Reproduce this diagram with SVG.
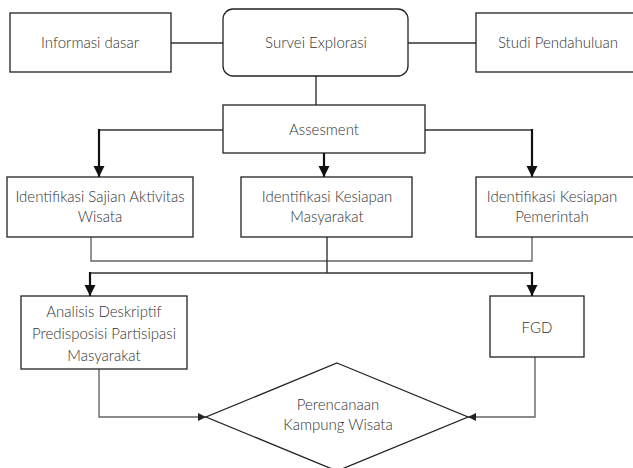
<svg xmlns="http://www.w3.org/2000/svg" width="633" height="468" viewBox="0 0 633 468">
<style>
.box{fill:#fff;stroke:#222;stroke-width:1.3}
.t{font-family:Lato,"Open Sans","DejaVu Sans",sans-serif;font-size:15px;font-weight:300;fill:#333;text-anchor:middle}
.ln{fill:none;stroke:#333;stroke-width:1.4}
.th{fill:none;stroke:#111;stroke-width:2.2}
.gr{fill:none;stroke:#666;stroke-width:1.4}
</style>
<defs>
<marker id="big" viewBox="0 0 10 10" refX="10" refY="5" markerUnits="userSpaceOnUse" markerWidth="11" markerHeight="12" orient="auto"><path d="M0,0 L10,5 L0,10 z" fill="#111"/></marker>
<marker id="small" viewBox="0 0 10 10" refX="10" refY="5" markerUnits="userSpaceOnUse" markerWidth="9" markerHeight="8" orient="auto"><path d="M0,0 L10,5 L0,10 z" fill="#222"/></marker>
</defs>
<rect width="633" height="468" fill="#fff"/>
<g id="connectors">
<line class="ln" x1="171" y1="43" x2="223" y2="43"/>
<line class="ln" x1="408" y1="43" x2="476" y2="43"/>
<line class="ln" x1="316" y1="76" x2="316" y2="105"/>
<path class="ln" d="M223 130 H99"/>
<path class="th" d="M99 129 V177" marker-end="url(#big)"/>
<path class="ln" d="M425 130 H532"/>
<path class="th" d="M532 129 V177" marker-end="url(#big)"/>
<path class="th" d="M324 153 V177" marker-end="url(#big)"/>
<path class="gr" d="M91 237 V261 H532 V237"/>
<path class="ln" d="M327 237 V273"/>
<path class="ln" d="M89 273 H533"/>
<path class="th" d="M90 272 V296" marker-end="url(#big)"/>
<path class="th" d="M532 272 V296" marker-end="url(#big)"/>
<path class="gr" d="M99 369 V417 H206" marker-end="url(#small)"/>
<path class="gr" d="M535 357 V417 H468" marker-end="url(#small)"/>
</g>
<g id="informasi"><rect class="box" x="10" y="13" width="161" height="59"/><text class="t" x="90" y="48">Informasi dasar</text></g>
<g id="survei"><rect class="box" x="223" y="9" width="185" height="67" rx="10"/><text class="t" x="316" y="48">Survei Explorasi</text></g>
<g id="studi"><rect class="box" x="476" y="13" width="170" height="59"/><text class="t" x="558" y="48">Studi Pendahuluan</text></g>
<g id="assesment"><rect class="box" x="223" y="105" width="202" height="48"/><text class="t" x="324" y="135">Assesment</text></g>
<g id="sajian"><rect class="box" x="7" y="177" width="186" height="60"/><text class="t" x="100" y="202">Identifikasi Sajian Aktivitas</text><text class="t" x="100" y="222">Wisata</text></g>
<g id="masyarakat"><rect class="box" x="241" y="177" width="171" height="60"/><text class="t" x="327" y="202">Identifikasi Kesiapan</text><text class="t" x="327" y="222">Masyarakat</text></g>
<g id="pemerintah"><rect class="box" x="476" y="177" width="170" height="60"/><text class="t" x="552" y="202">Identifikasi Kesiapan</text><text class="t" x="552" y="222">Pemerintah</text></g>
<g id="analisis"><rect class="box" x="21" y="296" width="166" height="73"/><text class="t" x="104" y="317">Analisis Deskriptif</text><text class="t" x="104" y="339">Predisposisi Partisipasi</text><text class="t" x="104" y="361">Masyarakat</text></g>
<g id="fgd"><rect class="box" x="490" y="296" width="94" height="61"/><text class="t" x="537" y="333">FGD</text></g>
<g id="perencanaan"><polygon class="box" points="337,363 468,417 337,471 206,417"/><text class="t" x="338" y="410">Perencanaan</text><text class="t" x="338" y="430">Kampung Wisata</text></g>
</svg>
